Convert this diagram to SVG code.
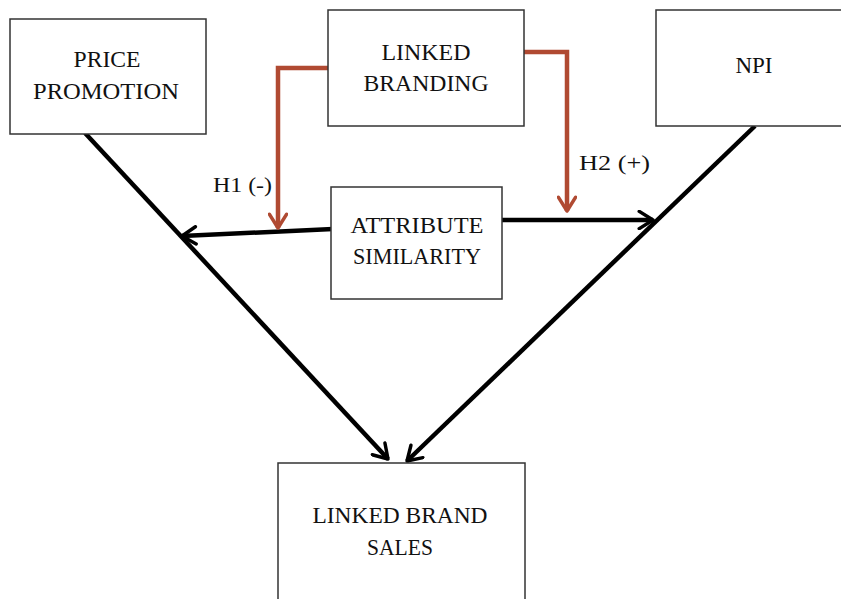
<svg xmlns="http://www.w3.org/2000/svg" width="841" height="599" viewBox="0 0 841 599">
<defs>
<style>
.box{fill:#fff;stroke:#333;stroke-width:1.5}
.t{font-family:"Liberation Serif","Times New Roman",serif;font-size:23px;fill:#111;text-anchor:middle}
.lb{font-family:"Liberation Serif","Times New Roman",serif;font-size:22px;fill:#111}
.blk{fill:none;stroke:#000;stroke-width:4.5}
.red{fill:none;stroke:#B04A32;stroke-width:4.5}
</style>
<marker id="ak" viewBox="0 0 12 12" refX="10" refY="6" markerWidth="4.6" markerHeight="4.6" orient="auto" markerUnits="strokeWidth">
<path d="M2,1 L10,6 L2,11" fill="none" stroke="#000" stroke-width="2" stroke-linecap="round" stroke-linejoin="round"/>
</marker>
<marker id="ar" viewBox="0 0 12 12" refX="10" refY="6" markerWidth="4.6" markerHeight="4.6" orient="auto" markerUnits="strokeWidth">
<path d="M2,1 L10,6 L2,11" fill="none" stroke="#B04A32" stroke-width="2" stroke-linecap="round" stroke-linejoin="round"/>
</marker>
</defs>
<rect width="841" height="599" fill="#fff"/>
<g id="connectors">
<path class="blk" d="M85,133 L388,459" marker-end="url(#ak)"/>
<path class="blk" d="M755,126 L407,461" marker-end="url(#ak)"/>
<path class="blk" d="M333,229 L182,236" marker-end="url(#ak)"/>
<path class="blk" d="M502,220 L653,220" marker-end="url(#ak)"/>
<path class="red" d="M328,68 L278,68 L278,228" marker-end="url(#ar)"/>
<path class="red" d="M524,52 L567,52 L567,211" marker-end="url(#ar)"/>
<text class="lb" x="213" y="192" textLength="59" lengthAdjust="spacingAndGlyphs">H1 (-)</text>
<text class="lb" x="579" y="170" textLength="71" lengthAdjust="spacingAndGlyphs">H2 (+)</text>
</g>
<g id="price-promotion">
<rect class="box" x="10" y="19" width="196" height="115"/>
<text class="t" x="107" y="67" textLength="67" lengthAdjust="spacingAndGlyphs">PRICE</text>
<text class="t" x="106" y="99" textLength="146" lengthAdjust="spacingAndGlyphs">PROMOTION</text>
</g>
<g id="linked-branding">
<rect class="box" x="328" y="10" width="196" height="116"/>
<text class="t" x="426" y="60" textLength="89" lengthAdjust="spacingAndGlyphs">LINKED</text>
<text class="t" x="426" y="91" textLength="125" lengthAdjust="spacingAndGlyphs">BRANDING</text>
</g>
<g id="npi">
<rect class="box" x="656" y="10" width="190" height="116"/>
<text class="t" x="754" y="73">NPI</text>
</g>
<g id="attribute-similarity">
<rect class="box" x="331" y="187" width="171" height="112"/>
<text class="t" x="417" y="233" textLength="133" lengthAdjust="spacingAndGlyphs">ATTRIBUTE</text>
<text class="t" x="417" y="264" textLength="128" lengthAdjust="spacingAndGlyphs">SIMILARITY</text>
</g>
<g id="linked-brand-sales">
<rect class="box" x="278" y="463" width="247" height="145"/>
<text class="t" x="400" y="523" textLength="175" lengthAdjust="spacingAndGlyphs">LINKED BRAND</text>
<text class="t" x="400" y="555" textLength="66" lengthAdjust="spacingAndGlyphs">SALES</text>
</g>
</svg>
